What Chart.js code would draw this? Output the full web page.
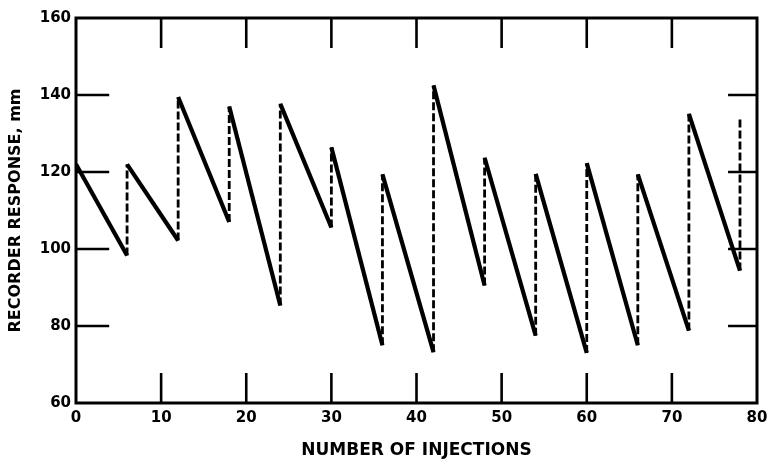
<!DOCTYPE html>
<html>
<head>
<meta charset="utf-8">
<script src="https://cdn.jsdelivr.net/npm/chart.js@4"></script>
<style>
  html, body { margin: 0; padding: 0; background: #fff; }
  #wrap { width: 767px; height: 461px; }
</style>
</head>
<body>
<div id="wrap"><canvas id="c" width="767" height="461"></canvas></div>
<script>
// Injection numbers at which each response peak occurs (recorder reset)
const peakInjections = [0, 6, 12, 18, 24, 30, 36, 42, 48, 54, 60, 66, 72, 78];
const peakValues     = [122, 122, 139.5, 137, 137.7, 126.4, 119.4, 142.5, 123.7, 119.5, 122.3, 119.4, 135.1, 134.2];
// Injection numbers at which each trough occurs (just before reset)
const troughInjections = [6, 12, 18, 24, 30, 36, 42, 48, 54, 60, 66, 72, 78];
const troughValues     = [98.3, 102.2, 107, 85.3, 105.6, 75, 73.2, 90.5, 77.5, 73, 75, 78.8, 94.4];

const xTickValues = [10, 20, 30, 40, 50, 60, 70];
const yTickValues = [80, 100, 120, 140];

// Build the sawtooth path: peak -> (solid decay) -> trough -> (dashed jump) -> next peak
const points = [];
for (let i = 0; i < peakInjections.length; i++) {
  if (i > 0) points.push({ x: troughInjections[i - 1], y: troughValues[i - 1] });
  points.push({ x: peakInjections[i], y: peakValues[i] });
}

const FONT = "'DejaVu Sans', 'Liberation Sans', sans-serif";

const framePlugin = {
  id: 'frameTicks',
  afterDatasetsDraw(chart) {
    const { ctx, chartArea: a, scales: { x, y } } = chart;
    ctx.save();
    ctx.strokeStyle = '#000';
    ctx.lineCap = 'butt';
    // frame
    ctx.lineWidth = 3;
    ctx.strokeRect(a.left, a.top, a.right - a.left, a.bottom - a.top);
    // inner ticks
    ctx.lineWidth = 2.6;
    ctx.beginPath();
    xTickValues.forEach(v => {
      const px = x.getPixelForValue(v);
      ctx.moveTo(px, y.getPixelForValue(60));
      ctx.lineTo(px, y.getPixelForValue(67.8));
      ctx.moveTo(px, y.getPixelForValue(160));
      ctx.lineTo(px, y.getPixelForValue(152.2));
    });
    yTickValues.forEach(v => {
      const py = y.getPixelForValue(v);
      ctx.moveTo(x.getPixelForValue(0), py);
      ctx.lineTo(x.getPixelForValue(3.9), py);
      ctx.moveTo(x.getPixelForValue(80), py);
      ctx.lineTo(x.getPixelForValue(76.6), py);
    });
    ctx.stroke();
    ctx.restore();
  }
};

new Chart(document.getElementById('c'), {
  type: 'line',
  data: {
    datasets: [{
      data: points,
      borderColor: '#000',
      borderWidth: 4.2,
      pointRadius: 0,
      tension: 0,
      fill: false,
      segment: {
        borderDash: ctx => ctx.p0.parsed.x === ctx.p1.parsed.x ? [8, 3] : undefined,
        borderWidth: ctx => ctx.p0.parsed.x === ctx.p1.parsed.x ? 2.8 : 4.2
      }
    }]
  },
  options: {
    responsive: false,
    animation: false,
    devicePixelRatio: 1,
    layout: { padding: { top: 18, right: 10, left: 0, bottom: 0 } },
    plugins: { legend: { display: false }, tooltip: { enabled: false } },
    scales: {
      x: {
        type: 'linear',
        min: 0, max: 80,
        afterFit: s => { s.height = 58; s.paddingLeft = 0; s.paddingRight = 0; },
        grid: { display: false, drawTicks: false },
        border: { display: false },
        ticks: { stepSize: 10, color: '#000', padding: 6, maxRotation: 0,
                 font: { family: FONT, weight: 'bold', size: 15 } },
        title: { display: true, text: 'NUMBER OF INJECTIONS', color: '#000',
                 padding: { top: 0, bottom: 0 },
                 font: { family: FONT, weight: 'bold', size: 17 } }
      },
      y: {
        type: 'linear',
        min: 60, max: 160,
        afterFit: s => { s.width = 76; s.paddingTop = 0; s.paddingBottom = 0; },
        grid: { display: false, drawTicks: false },
        border: { display: false },
        ticks: { stepSize: 20, color: '#000', padding: 5,
                 font: { family: FONT, weight: 'bold', size: 15 } },
        title: { display: true, text: 'RECORDER RESPONSE, mm', color: '#000',
                 padding: { top: 6, bottom: 0 },
                 font: { family: FONT, weight: 'bold', size: 16 } }
      }
    }
  },
  plugins: [framePlugin]
});
</script>
</body>
</html>
